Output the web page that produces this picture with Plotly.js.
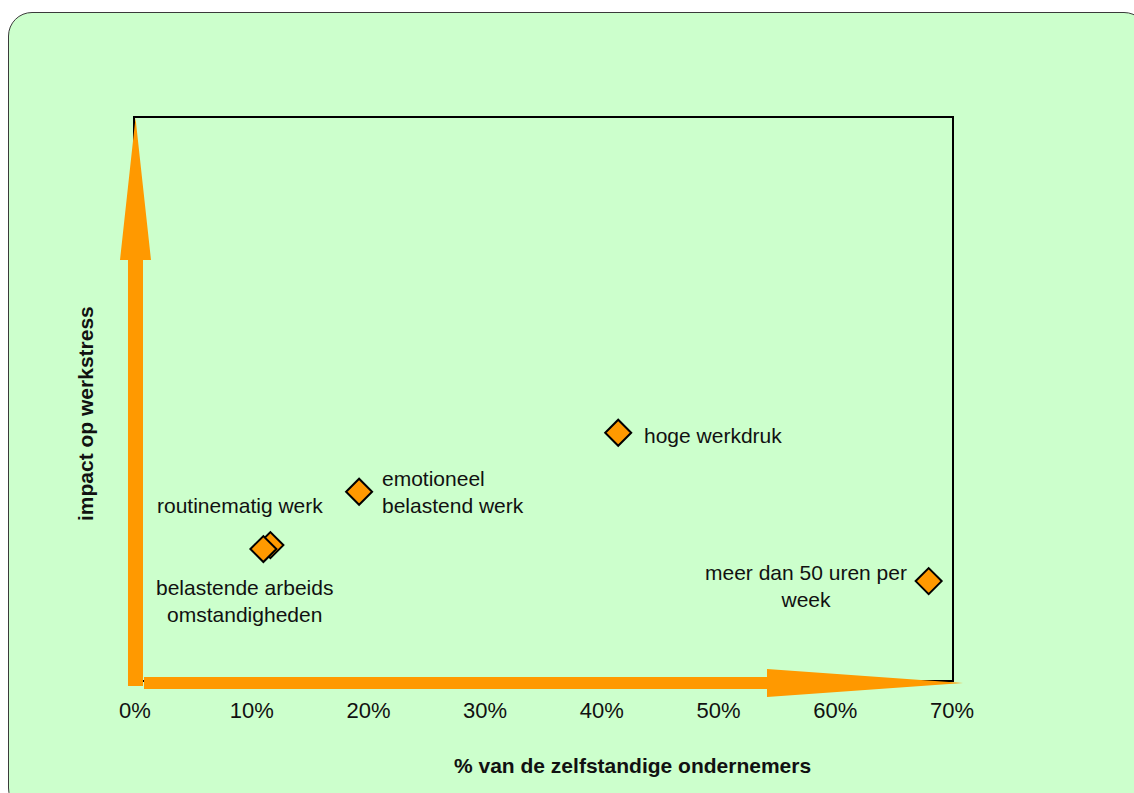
<!DOCTYPE html>
<html>
<head>
<meta charset="utf-8">
<script src="https://cdn.plot.ly/plotly-3.0.1.min.js"></script>
<style>
  html, body { margin: 0; padding: 0; background: #ffffff; width: 1134px; height: 793px; overflow: hidden; }
  #bg { position: absolute; left: 8px; top: 12px; width: 1140px; height: 800px;
        background: #CCFFCC; border: 1.5px solid #3a3a3a; border-radius: 24px; box-sizing: border-box; }
  #chart { position: absolute; left: 0; top: 0; width: 1134px; height: 793px; }
</style>
</head>
<body>
<div id="bg"></div>
<div id="chart"></div>
<script>
// ---- data ----
const categories = ["routinematig werk", "belastende arbeids<br>omstandigheden", "emotioneel<br>belastend werk", "hoge werkdruk", "meer dan 50 uren per<br>week"];
const pctZelfstandigen = [11.6, 11.0, 19.2, 41.4, 68.0];   // % van de zelfstandige ondernemers
const impactWerkstress = [24.0, 23.3, 33.5, 44.0, 17.6];   // impact op werkstress (relative scale)
const xTickVals = [0, 10, 20, 30, 40, 50, 60, 70];
const xTickText = ["0%", "10%", "20%", "30%", "40%", "50%", "60%", "70%"];
const xTitle = "% van de zelfstandige ondernemers";
const yTitle = "impact op werkstress";

// ---- layout geometry ----
const W = 1134, H = 793;
const M = { l: 135, r: W - 952, t: 118, b: H - 680 };
const PW = W - M.l - M.r, PH = H - M.t - M.b;
const px = x => (x - M.l) / PW;          // pixel -> paper x
const py = y => (H - M.b - y) / PH;      // pixel -> paper y
function pathFrom(pts) {
  return "M " + pts.map(p => px(p[0]).toFixed(5) + "," + py(p[1]).toFixed(5)).join(" L ") + " Z";
}
const orange = "#FF9900";
const FONT = "Liberation Sans, Arial, sans-serif";

// label placement (pixel offsets from each marker)
const labelStyle = [
  { xanchor: "center", xshift: -30, yshift: 40, align: "center" },
  { xanchor: "center", xshift: -19, yshift: -52, align: "center" },
  { xanchor: "left", xshift: 21, yshift: 0, align: "left" },
  { xanchor: "left", xshift: 24, yshift: -3, align: "left" },
  { xanchor: "center", xshift: -123, yshift: -5, align: "center" }
];

const annotations = categories.map((c, i) => Object.assign({
  x: pctZelfstandigen[i], y: impactWerkstress[i], xref: "x", yref: "y",
  text: c, showarrow: false, yanchor: "middle",
  font: { family: FONT, size: 21, color: "#111111" }
}, labelStyle[i]));

// axis titles (offset from the plot centre, as in the original)
annotations.push({
  xref: "paper", yref: "paper", x: px(632), y: py(765), xanchor: "center", yanchor: "middle",
  text: "<b>" + xTitle + "</b>", showarrow: false,
  font: { family: FONT, size: 21, color: "#111111" }
});
annotations.push({
  xref: "paper", yref: "paper", x: px(85), y: py(414), xanchor: "center", yanchor: "middle",
  text: "<b>" + yTitle + "</b>", showarrow: false, textangle: -90,
  font: { family: FONT, size: 21, color: "#111111" }
});

const trace = {
  type: "scatter", mode: "markers",
  x: pctZelfstandigen, y: impactWerkstress,
  text: categories, hoverinfo: "text",
  marker: { symbol: "diamond", size: 20, color: orange, line: { color: "#000000", width: 2 } }
};

const shapes = [
  { type: "path", xref: "paper", yref: "paper", layer: "above",
    path: pathFrom([[128, 686], [143, 686], [143, 260], [151, 260], [135.5, 118], [120, 260], [128, 260]]),
    fillcolor: orange, line: { width: 0 } },
  { type: "path", xref: "paper", yref: "paper", layer: "above",
    path: pathFrom([[144, 677], [767, 677], [767, 669], [963, 683], [767, 697], [767, 689], [144, 689]]),
    fillcolor: orange, line: { width: 0 } }
];

const layout = {
  width: W, height: H,
  margin: M,
  paper_bgcolor: "rgba(0,0,0,0)", plot_bgcolor: "rgba(0,0,0,0)",
  showlegend: false,
  font: { family: FONT, color: "#111111" },
  xaxis: {
    range: [0, 70], tickvals: xTickVals, ticktext: xTickText,
    showgrid: false, zeroline: false, ticks: "",
    showline: true, mirror: true, linecolor: "#000000", linewidth: 2,
    ticklabelstandoff: 10,
    tickfont: { size: 22, color: "#111111" },
    title: { text: "" }
  },
  yaxis: {
    range: [0, 100], showticklabels: false, showgrid: false, zeroline: false, ticks: "",
    showline: true, mirror: true, linecolor: "#000000", linewidth: 2,
    title: { text: "" }
  },
  shapes: shapes,
  annotations: annotations
};

Plotly.newPlot("chart", [trace], layout, { displayModeBar: false, staticPlot: true });
</script>
</body>
</html>
